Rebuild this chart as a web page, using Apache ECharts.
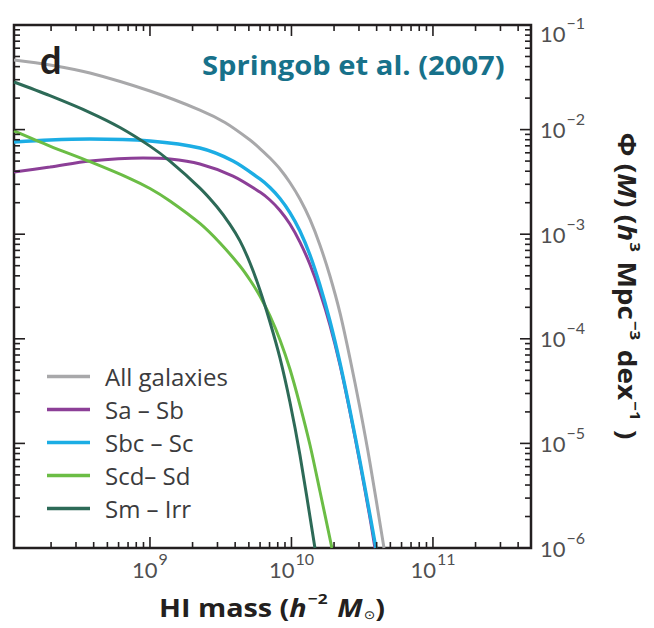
<!DOCTYPE html>
<html>
<head>
<meta charset="utf-8">
<title>HI mass function by morphological type</title>
<script src="https://cdn.jsdelivr.net/npm/echarts@6/dist/echarts.min.js"></script>
<style>
  html, body { margin: 0; padding: 0; background: #ffffff; }
  #chart { width: 654px; height: 628px; }
</style>
</head>
<body>
<div id="chart"></div>
<script>
// HI mass functions (Springob et al. 2007), values in dex:
// log10 of HI mass (h^-2 Msun) and log10 of Phi (h^3 Mpc^-3 dex^-1).
const seriesNames = ['All galaxies', 'Sa – Sb', 'Sbc – Sc', 'Scd– Sd', 'Sm – Irr'];

const logMassAll = [8.039, 8.293, 8.576, 9.000, 9.353, 9.530, 9.707, 9.777, 9.848, 9.919, 9.989, 10.060, 10.131, 10.201, 10.272, 10.343, 10.413, 10.484, 10.555, 10.654];
const logPhiAll  = [-1.335, -1.382, -1.459, -1.631, -1.813, -1.932, -2.099, -2.181, -2.272, -2.377, -2.506, -2.664, -2.859, -3.103, -3.400, -3.753, -4.184, -4.662, -5.187, -6.000];

const logMassSaSb = [8.039, 8.293, 8.576, 8.951, 9.141, 9.353, 9.587, 9.777, 9.848, 9.919, 9.989, 10.060, 10.131, 10.201, 10.272, 10.343, 10.413, 10.484, 10.555, 10.590];
const logPhiSaSb  = [-2.405, -2.358, -2.300, -2.272, -2.281, -2.329, -2.444, -2.597, -2.673, -2.773, -2.902, -3.075, -3.290, -3.553, -3.868, -4.250, -4.695, -5.187, -5.713, -6.000];

const logMassSbcSc = [8.039, 8.293, 8.576, 9.000, 9.353, 9.587, 9.777, 9.848, 9.919, 9.989, 10.060, 10.131, 10.201, 10.272, 10.343, 10.413, 10.484, 10.555, 10.597];
const logPhiSbcSc  = [-2.119, -2.099, -2.090, -2.109, -2.176, -2.300, -2.472, -2.554, -2.659, -2.793, -2.969, -3.199, -3.486, -3.830, -4.231, -4.681, -5.168, -5.685, -6.000];

const logMassScdSd = [8.039, 8.293, 8.576, 8.859, 9.000, 9.141, 9.353, 9.495, 9.636, 9.707, 9.777, 9.848, 9.919, 9.989, 10.060, 10.131, 10.201, 10.286];
const logPhiScdSd  = [-2.013, -2.158, -2.307, -2.468, -2.563, -2.682, -2.897, -3.084, -3.304, -3.438, -3.591, -3.782, -4.011, -4.289, -4.633, -5.015, -5.455, -6.000];

const logMassSmIrr = [8.039, 8.293, 8.576, 8.788, 9.000, 9.141, 9.353, 9.473, 9.565, 9.636, 9.707, 9.777, 9.848, 9.919, 9.989, 10.060, 10.166];
const logPhiSmIrr  = [-1.545, -1.676, -1.837, -1.980, -2.158, -2.301, -2.559, -2.738, -2.906, -3.064, -3.275, -3.533, -3.839, -4.184, -4.604, -5.111, -6.000];

// Axis ranges (dex) and decade tick positions
const xRangeDex = [8.039, 11.693];
const yRangeDex = [-6, -1];
const xDecades = [8, 9, 10, 11];
const yDecades = [-6, -5, -4, -3, -2, -1];

const colors = ['#a8a8aa', '#8c3f97', '#1cade4', '#6bbd45', '#2d6a57'];
const INK = '#231f20';
const LABEL_FONT = 'Lato';
const TEXT_FONT = 'Open Sans';

const X_MIN = Math.pow(10, xRangeDex[0]);
const X_MAX = Math.pow(10, xRangeDex[1]);
const Y_MIN = Math.pow(10, yRangeDex[0]);
const Y_MAX = Math.pow(10, yRangeDex[1]);

function toPairs(logM, logP) {
  return logM.map((m, i) => [Math.pow(10, m), Math.pow(10, logP[i])]);
}

// Major and minor ticks (1..9 per decade) inside the axis ranges
function ticksFor(decades, lo, hi) {
  const major = [], minor = [];
  decades.forEach(d => {
    for (let k = 1; k <= 9; k++) {
      const v = k * Math.pow(10, d);
      if (v < lo * 0.999 || v > hi * 1.001) continue;
      (k === 1 ? major : minor).push(v);
    }
  });
  return { major, minor };
}
const xTicks = ticksFor(xDecades, X_MIN, X_MAX);
const yTicks = ticksFor(yDecades, Y_MIN, Y_MAX);

const tickStyle = { stroke: INK, lineWidth: 1.6 };

// Inward ticks on bottom and top edges
function xTickSeries(values, len) {
  return {
    type: 'custom', silent: true, z: 5,
    data: values.map(v => [v, Y_MIN]),
    renderItem(params, api) {
      const v = api.value(0);
      const b = api.coord([v, Y_MIN]);
      const t = api.coord([v, Y_MAX]);
      return { type: 'group', children: [
        { type: 'line', shape: { x1: b[0], y1: b[1], x2: b[0], y2: b[1] - len }, style: tickStyle },
        { type: 'line', shape: { x1: t[0], y1: t[1], x2: t[0], y2: t[1] + len }, style: tickStyle }
      ]};
    }
  };
}
// Inward ticks on left and right edges
function yTickSeries(values, len) {
  return {
    type: 'custom', silent: true, z: 5,
    data: values.map(v => [X_MIN, v]),
    renderItem(params, api) {
      const v = api.value(1);
      const l = api.coord([X_MIN, v]);
      const r = api.coord([X_MAX, v]);
      return { type: 'group', children: [
        { type: 'line', shape: { x1: l[0], y1: l[1], x2: l[0] + len, y2: l[1] }, style: tickStyle },
        { type: 'line', shape: { x1: r[0], y1: r[1], x2: r[0] - len, y2: r[1] }, style: tickStyle }
      ]};
    }
  };
}

function decadeOf(v) {
  const e = Math.log10(v);
  return Math.abs(e - Math.round(e)) < 1e-6 ? Math.round(e) : null;
}

const LABEL_GRAY = '#4f4f51';
const labelRich = {
  b: { fontFamily: LABEL_FONT, fontSize: 22, color: LABEL_GRAY },
  s: { fontFamily: LABEL_FONT, fontSize: 16, color: LABEL_GRAY, padding: [0, 0, 22, 1] },
  // the label at the top corner sits a little lower so it stays beside the frame
  bt: { fontFamily: LABEL_FONT, fontSize: 22, color: LABEL_GRAY, padding: [16, 0, 0, 0] },
  st: { fontFamily: LABEL_FONT, fontSize: 16, color: LABEL_GRAY, padding: [0, 0, 6, 1] }
};

const lineData = [
  toPairs(logMassAll, logPhiAll),
  toPairs(logMassSaSb, logPhiSaSb),
  toPairs(logMassSbcSc, logPhiSbcSc),
  toPairs(logMassScdSd, logPhiScdSd),
  toPairs(logMassSmIrr, logPhiSmIrr)
];

const lineSeries = seriesNames.map((name, i) => ({
  name, type: 'line', data: lineData[i],
  showSymbol: false, smooth: 0.3, clip: true, z: 3,
  lineStyle: { color: colors[i], width: i === 2 ? 3.4 : 3 },
  itemStyle: { color: colors[i] }
}));

const boldRich = {
  b: { fontFamily: TEXT_FONT, fontWeight: 'bold', fontSize: 25, fill: INK },
  i: { fontFamily: TEXT_FONT, fontWeight: 'bold', fontStyle: 'italic', fontSize: 25, fill: INK },
  s: { fontFamily: TEXT_FONT, fontWeight: 'bold', fontSize: 15, fill: INK, padding: [0, 2, 17, 1] },
  u: { fontFamily: 'DejaVu Sans', fontSize: 12, fill: INK, padding: [16, 0, 0, 1] }
};

const chart = echarts.init(document.getElementById('chart'), null, { renderer: 'svg' });
chart.setOption({
  animation: false,
  backgroundColor: '#ffffff',
  grid: { left: 14, right: 123, top: 25, bottom: 80, show: true, borderColor: INK, borderWidth: 2.5, backgroundColor: 'transparent' },
  xAxis: {
    type: 'log', logBase: 10, min: X_MIN, max: X_MAX,
    axisLine: { show: false }, axisTick: { show: false }, splitLine: { show: false },
    axisLabel: {
      margin: 2,
      formatter(v) { const e = decadeOf(v); return e === null ? '' : '{b|10}{s|' + e + '}'; },
      rich: labelRich
    }
  },
  yAxis: {
    type: 'log', logBase: 10, min: Y_MIN, max: Y_MAX, position: 'right',
    axisLine: { show: false }, axisTick: { show: false }, splitLine: { show: false },
    axisLabel: {
      margin: 9,
      formatter(v) {
        const e = decadeOf(v);
        if (e === null) return '';
        if (e === yRangeDex[1]) return '{bt|10}{st|−' + Math.abs(e) + '}';
        return '{b|10}{s|−' + Math.abs(e) + '}';
      },
      rich: labelRich
    }
  },
  legend: {
    orient: 'vertical', left: 47, top: 364, padding: 0,
    icon: 'rect', itemWidth: 43, itemHeight: 3.5, itemGap: 8,
    data: seriesNames,
    selectedMode: false,
    textStyle: { fontFamily: TEXT_FONT, fontSize: 24, lineHeight: 25, color: '#3b3b3d', padding: [0, 0, 0, 10] }
  },
  series: [
    ...lineSeries,
    xTickSeries(xTicks.major, 11), xTickSeries(xTicks.minor, 6),
    yTickSeries(yTicks.major, 11), yTickSeries(yTicks.minor, 6)
  ],
  graphic: [
    { type: 'text', x: 40, y: 40, z: 10,
      style: { text: 'd', fontFamily: LABEL_FONT, fontWeight: 'bold', fontSize: 38, fill: INK, align: 'left', verticalAlign: 'top' } },
    { type: 'text', x: 202, y: 64, scaleX: 1.08, z: 10,
      style: { text: 'Springob et al. (2007)', fontFamily: TEXT_FONT, fontWeight: 'bold', fontSize: 27, fill: '#17718a', align: 'left', verticalAlign: 'middle' } },
    { type: 'text', x: 272, y: 607, scaleX: 1.15, z: 10,
      style: {
        text: '{b|HI mass (}{i|h}{s|−2}{b| }{i|M}{u|⊙}{b|)}',
        align: 'center', verticalAlign: 'middle', rich: boldRich
      } },
    { type: 'text', x: 627, y: 286, rotation: -Math.PI / 2, scaleX: 1.12, z: 10,
      style: {
        text: '{b|Φ (}{i|M}{b|) (}{i|h}{s|3}{b| Mpc}{s|−3}{b| dex}{s|−1}{b| )}',
        align: 'center', verticalAlign: 'middle', rich: boldRich
      } }
  ]
});
</script>
</body>
</html>
